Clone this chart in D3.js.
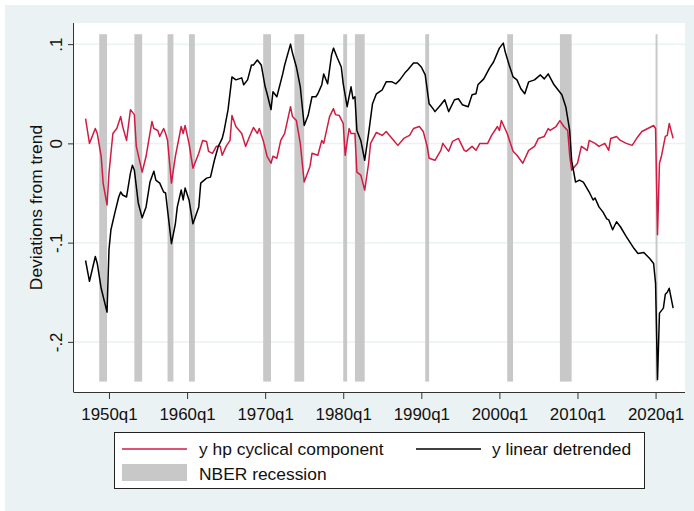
<!DOCTYPE html>
<html>
<head>
<meta charset="utf-8">
<script src="https://cdn.jsdelivr.net/npm/d3@7"></script>
<style>
body { margin: 0; background: #fff; }
text { font-family: "Liberation Sans", Arial, sans-serif; fill: #111; }
</style>
</head>
<body>
<div id="chart"></div>
<script>
// y hp cyclical component (quarterly dates)
var hpQuarters = ["1947q1","1947q3","1948q2","1948q3","1949q1","1949q2","1949q4","1950q1","1950q3","1951q1",
  "1951q3","1951q4","1952q2","1952q4","1953q2","1953q3","1954q2","1954q4","1955q3","1955q4",
  "1956q2","1956q3","1957q1","1957q2","1957q3","1958q1","1958q3","1959q2","1959q3","1959q4",
  "1960q2","1960q4","1961q3","1962q1","1962q3","1962q4","1963q2","1963q4","1964q2","1964q3",
  "1965q1","1965q3","1965q4","1966q2","1967q1","1967q3","1968q1","1968q3","1969q1","1969q2",
  "1969q4","1970q2","1970q4","1971q1","1971q3","1972q1","1972q3","1973q2","1973q3","1974q1",
  "1974q3","1975q1","1975q4","1976q1","1976q4","1977q2","1977q3","1978q2","1978q4","1979q1",
  "1979q3","1980q1","1980q2","1980q4","1981q1","1981q3","1981q4","1982q2","1982q4","1983q2",
  "1983q3","1984q2","1985q1","1985q3","1986q2","1987q1","1987q4","1988q3","1989q1","1989q4",
  "1990q2","1990q4","1991q1","1991q4","1992q3","1992q4","1993q3","1994q1","1994q4","1995q3",
  "1995q4","1996q3","1997q1","1997q3","1998q3","1999q1","1999q4","2000q1","2000q2","2001q1",
  "2001q4","2002q2","2003q1","2003q4","2004q3","2005q1","2005q4","2006q2","2006q3","2007q2",
  "2007q4","2008q2","2008q4","2009q1","2009q2","2010q1","2010q3","2011q2","2011q3","2012q2",
  "2012q4","2013q3","2014q1","2014q2","2015q1","2015q3","2016q2","2017q1","2017q4","2018q2",
  "2019q1","2019q4","2020q1","2020q2","2020q3","2020q4","2021q2","2021q3","2021q4","2022q2"]
var hpValues = [0.025,0.000,0.015,0.010,-0.013,-0.040,-0.062,-0.030,0.010,0.015,
  0.027,0.017,0.003,0.034,0.029,-0.003,-0.029,-0.013,0.022,0.015,
  0.013,0.007,0.015,0.010,0.003,-0.040,-0.013,0.017,0.010,0.018,
  0.000,-0.025,-0.010,0.003,0.002,-0.008,-0.010,-0.003,-0.003,-0.012,
  -0.003,0.003,0.028,0.017,0.010,-0.003,0.007,0.016,0.010,0.015,
  0.003,-0.013,-0.020,-0.013,-0.015,0.003,0.010,0.037,0.027,0.023,
  0.000,-0.039,-0.023,-0.010,-0.012,0.003,0.000,0.027,0.035,0.029,
  0.028,0.020,-0.012,0.015,0.010,0.010,-0.029,-0.032,-0.047,-0.020,
  0.000,0.011,0.008,0.012,0.005,-0.002,0.005,0.008,0.015,0.017,
  0.012,-0.003,-0.015,-0.017,-0.007,0.000,-0.008,0.002,0.005,-0.007,
  -0.008,-0.003,-0.007,0.000,0.000,0.008,0.017,0.013,0.023,0.010,
  -0.008,-0.012,-0.020,-0.007,-0.003,0.005,0.007,0.015,0.013,0.017,
  0.023,0.017,0.013,-0.012,-0.027,-0.020,-0.003,-0.007,0.003,0.000,
  -0.003,0.000,-0.007,0.005,0.007,0.003,0.000,-0.002,0.007,0.012,
  0.015,0.018,0.015,-0.092,-0.020,-0.013,0.007,0.008,0.020,0.005]

// y linear detrended
var linQuarters = ["1947q1","1947q3","1948q2","1948q3","1949q1","1949q2","1949q4","1950q1","1950q2","1950q4",
  "1951q2","1951q3","1951q4","1952q2","1952q4","1953q1","1953q2","1953q4","1954q2","1954q4",
  "1955q2","1955q4","1956q1","1956q3","1957q1","1957q2","1958q1","1958q3","1958q4","1959q2",
  "1959q3","1959q4","1960q2","1960q4","1961q3","1961q4","1962q3","1963q1","1963q3","1964q1",
  "1964q3","1964q4","1965q2","1965q4","1966q2","1967q1","1967q2","1967q4","1968q2","1968q3",
  "1969q1","1969q3","1970q1","1970q2","1970q4","1971q1","1971q3","1972q2","1972q3","1973q2",
  "1973q3","1974q1","1974q3","1975q1","1975q3","1976q1","1976q3","1976q4","1977q2","1977q3",
  "1978q1","1978q3","1978q4","1979q2","1979q4","1980q1","1980q3","1981q1","1981q2","1981q3",
  "1981q4","1982q2","1982q4","1983q2","1983q4","1984q2","1985q1","1985q3","1986q2","1986q4",
  "1987q2","1988q1","1988q2","1989q1","1989q3","1990q1","1990q3","1991q1","1991q3","1991q4",
  "1992q3","1993q1","1993q3","1994q2","1994q4","1995q2","1996q1","1996q3","1997q1","1997q2",
  "1998q1","1998q4","1999q2","2000q1","2000q3","2000q4","2001q2","2001q4","2002q2","2002q4",
  "2003q2","2003q4","2004q3","2005q2","2005q4","2006q2","2007q1","2007q3","2008q1","2008q3",
  "2009q1","2009q2","2009q4","2010q2","2010q4","2011q3","2012q1","2012q2","2012q4","2013q2",
  "2013q4","2014q1","2014q3","2015q1","2015q3","2016q2","2017q2","2017q4","2018q3","2019q2",
  "2019q4","2020q1","2020q2","2020q3","2021q1","2021q2","2021q3","2021q4","2022q2"]
var linValues = [-0.118,-0.139,-0.114,-0.121,-0.146,-0.154,-0.170,-0.107,-0.087,-0.070,
  -0.054,-0.049,-0.052,-0.054,-0.030,-0.022,-0.027,-0.060,-0.075,-0.064,
  -0.039,-0.028,-0.037,-0.040,-0.049,-0.050,-0.101,-0.081,-0.064,-0.047,
  -0.057,-0.045,-0.057,-0.081,-0.064,-0.040,-0.035,-0.034,-0.017,-0.003,
  0.005,0.013,0.034,0.067,0.064,0.066,0.059,0.064,0.079,0.079,
  0.084,0.079,0.057,0.050,0.034,0.052,0.047,0.070,0.079,0.100,
  0.091,0.077,0.057,0.018,0.028,0.047,0.047,0.050,0.059,0.070,
  0.060,0.089,0.096,0.086,0.077,0.060,0.037,0.057,0.045,0.047,
  0.013,0.003,-0.017,0.010,0.040,0.050,0.054,0.062,0.062,0.060,
  0.064,0.072,0.074,0.081,0.081,0.077,0.069,0.040,0.035,0.032,
  0.039,0.044,0.032,0.044,0.045,0.039,0.037,0.049,0.050,0.059,
  0.065,0.076,0.082,0.096,0.101,0.092,0.079,0.067,0.064,0.055,
  0.050,0.062,0.064,0.069,0.065,0.070,0.059,0.054,0.049,0.037,
  0.013,-0.017,-0.039,-0.037,-0.039,-0.049,-0.057,-0.055,-0.064,-0.069,
  -0.076,-0.077,-0.087,-0.079,-0.084,-0.094,-0.106,-0.111,-0.110,-0.116,
  -0.121,-0.141,-0.238,-0.171,-0.166,-0.152,-0.150,-0.146,-0.166]

// NBER recessions (peak quarter, trough quarter)
var recStart = ["1948q4","1953q2","1957q3","1960q2","1969q4","1973q4","1980q1","1981q3","1990q3","2001q1","2007q4","2020q1"]
var recEnd   = ["1949q4","1954q2","1958q2","1961q1","1970q4","1975q1","1980q3","1982q4","1991q1","2001q4","2009q2","2020q2"]
var recTop = 0.11
var recBottom = -0.24

var xTicks = ["1950q1","1960q1","1970q1","1980q1","1990q1","2000q1","2010q1","2020q1"]
var yTicks = [0.1, 0, -0.1, -0.2]
var yTickLabels = [".1", "0", "-.1", "-.2"]
var legendLabels = ["y hp cyclical component", "y linear detrended", "NBER recession"]

var W = 694, H = 511
var pL = 74, pR = 685, pT = 23, pB = 392
var red = "#d01c44", gray = "#c8c8c8", bg = "#eaf2f3"

function qnum(s) { return +s.slice(0, 4) + (+s.slice(5) - 1) / 4 }

var svg = d3.select("#chart").append("svg").attr("width", W).attr("height", H)

svg.append("rect").attr("x", 5).attr("y", 5).attr("width", W - 5).attr("height", H - 5).attr("fill", bg)
svg.append("rect").attr("x", pL).attr("y", pT).attr("width", pR - pL).attr("height", pB - pT).attr("fill", "#fff")

var x = d3.scaleLinear().domain([1945.52, 2023.77]).range([pL, pR])
var y = d3.scaleLinear().domain([-0.2505, 0.1213]).range([pB, pT])

// grid
svg.selectAll(".grid").data(yTicks).enter().append("line")
  .attr("class", "grid")
  .attr("x1", pL).attr("x2", pR)
  .attr("y1", function(d){ return y(d) }).attr("y2", function(d){ return y(d) })
  .attr("stroke", bg).attr("stroke-width", 1.5)

// recession bars
svg.selectAll(".rec").data(recStart).enter().append("rect")
  .attr("class", "rec")
  .attr("x", function(d){ return x(qnum(d)) })
  .attr("width", function(d, i){ return x(qnum(recEnd[i])) - x(qnum(d)) })
  .attr("y", y(recTop))
  .attr("height", y(recBottom) - y(recTop))
  .attr("fill", gray)

var line = d3.line()
  .x(function(d){ return x(qnum(d[0])) })
  .y(function(d){ return y(d[1]) })

svg.append("path")
  .datum(d3.zip(hpQuarters, hpValues))
  .attr("d", line)
  .attr("fill", "none").attr("stroke", red).attr("stroke-width", 1.5).attr("stroke-linejoin", "round")

svg.append("path")
  .datum(d3.zip(linQuarters, linValues))
  .attr("d", line)
  .attr("fill", "none").attr("stroke", "#000").attr("stroke-width", 1.5).attr("stroke-linejoin", "round")

// x axis
var xAxis = d3.axisBottom(x)
  .tickValues(xTicks.map(qnum))
  .tickFormat(function(d, i){ return xTicks[i] })
  .tickSize(7).tickSizeOuter(0).tickPadding(9)
var gx = svg.append("g").attr("transform", "translate(0," + pB + ")").call(xAxis)
gx.select(".domain").attr("d", "M" + pL + ",0.5H" + pR).attr("stroke", "#333")
gx.selectAll(".tick line").attr("stroke", "#333")
gx.selectAll("text").style("font-size", "16.9px").attr("fill", "#111")

// y axis
var yAxis = d3.axisLeft(y)
  .tickValues(yTicks)
  .tickFormat(function(d, i){ return yTickLabels[i] })
  .tickSize(6).tickSizeOuter(0)
var gy = svg.append("g").attr("transform", "translate(" + pL + ",0)").call(yAxis)
gy.select(".domain").attr("d", "M-0.5," + pT + "V" + (pB + 0.5)).attr("stroke", "#333")
gy.selectAll(".tick line").attr("stroke", "#333")
gy.selectAll("text")
  .attr("x", null).attr("dy", null)
  .attr("transform", "translate(-12,0) rotate(-90)")
  .attr("text-anchor", "middle")
  .style("font-size", "16.9px").attr("fill", "#111")

svg.append("text")
  .attr("transform", "translate(42," + ((pT + pB) / 2) + ") rotate(-90)")
  .attr("text-anchor", "middle")
  .style("font-size", "17.4px")
  .text("Deviations from trend")

// legend
var lg = svg.append("g")
lg.append("rect").attr("x", 114.5).attr("y", 432.5).attr("width", 530).attr("height", 56)
  .attr("fill", "#fff").attr("stroke", "#222")
lg.append("line").attr("x1", 122).attr("x2", 187).attr("y1", 449).attr("y2", 449).attr("stroke", red).attr("stroke-width", 1.5)
lg.append("line").attr("x1", 416).attr("x2", 481).attr("y1", 449).attr("y2", 449).attr("stroke", "#000").attr("stroke-width", 1.5)
lg.append("rect").attr("x", 122).attr("y", 464).attr("width", 65).attr("height", 17).attr("fill", gray)
lg.selectAll(".lt").data(legendLabels).enter().append("text")
  .attr("class", "lt")
  .attr("x", function(d, i){ return i == 1 ? 492 : 199 })
  .attr("y", function(d, i){ return i == 2 ? 480 : 455 })
  .style("font-size", "17.4px")
  .text(function(d){ return d })
</script>
</body>
</html>
